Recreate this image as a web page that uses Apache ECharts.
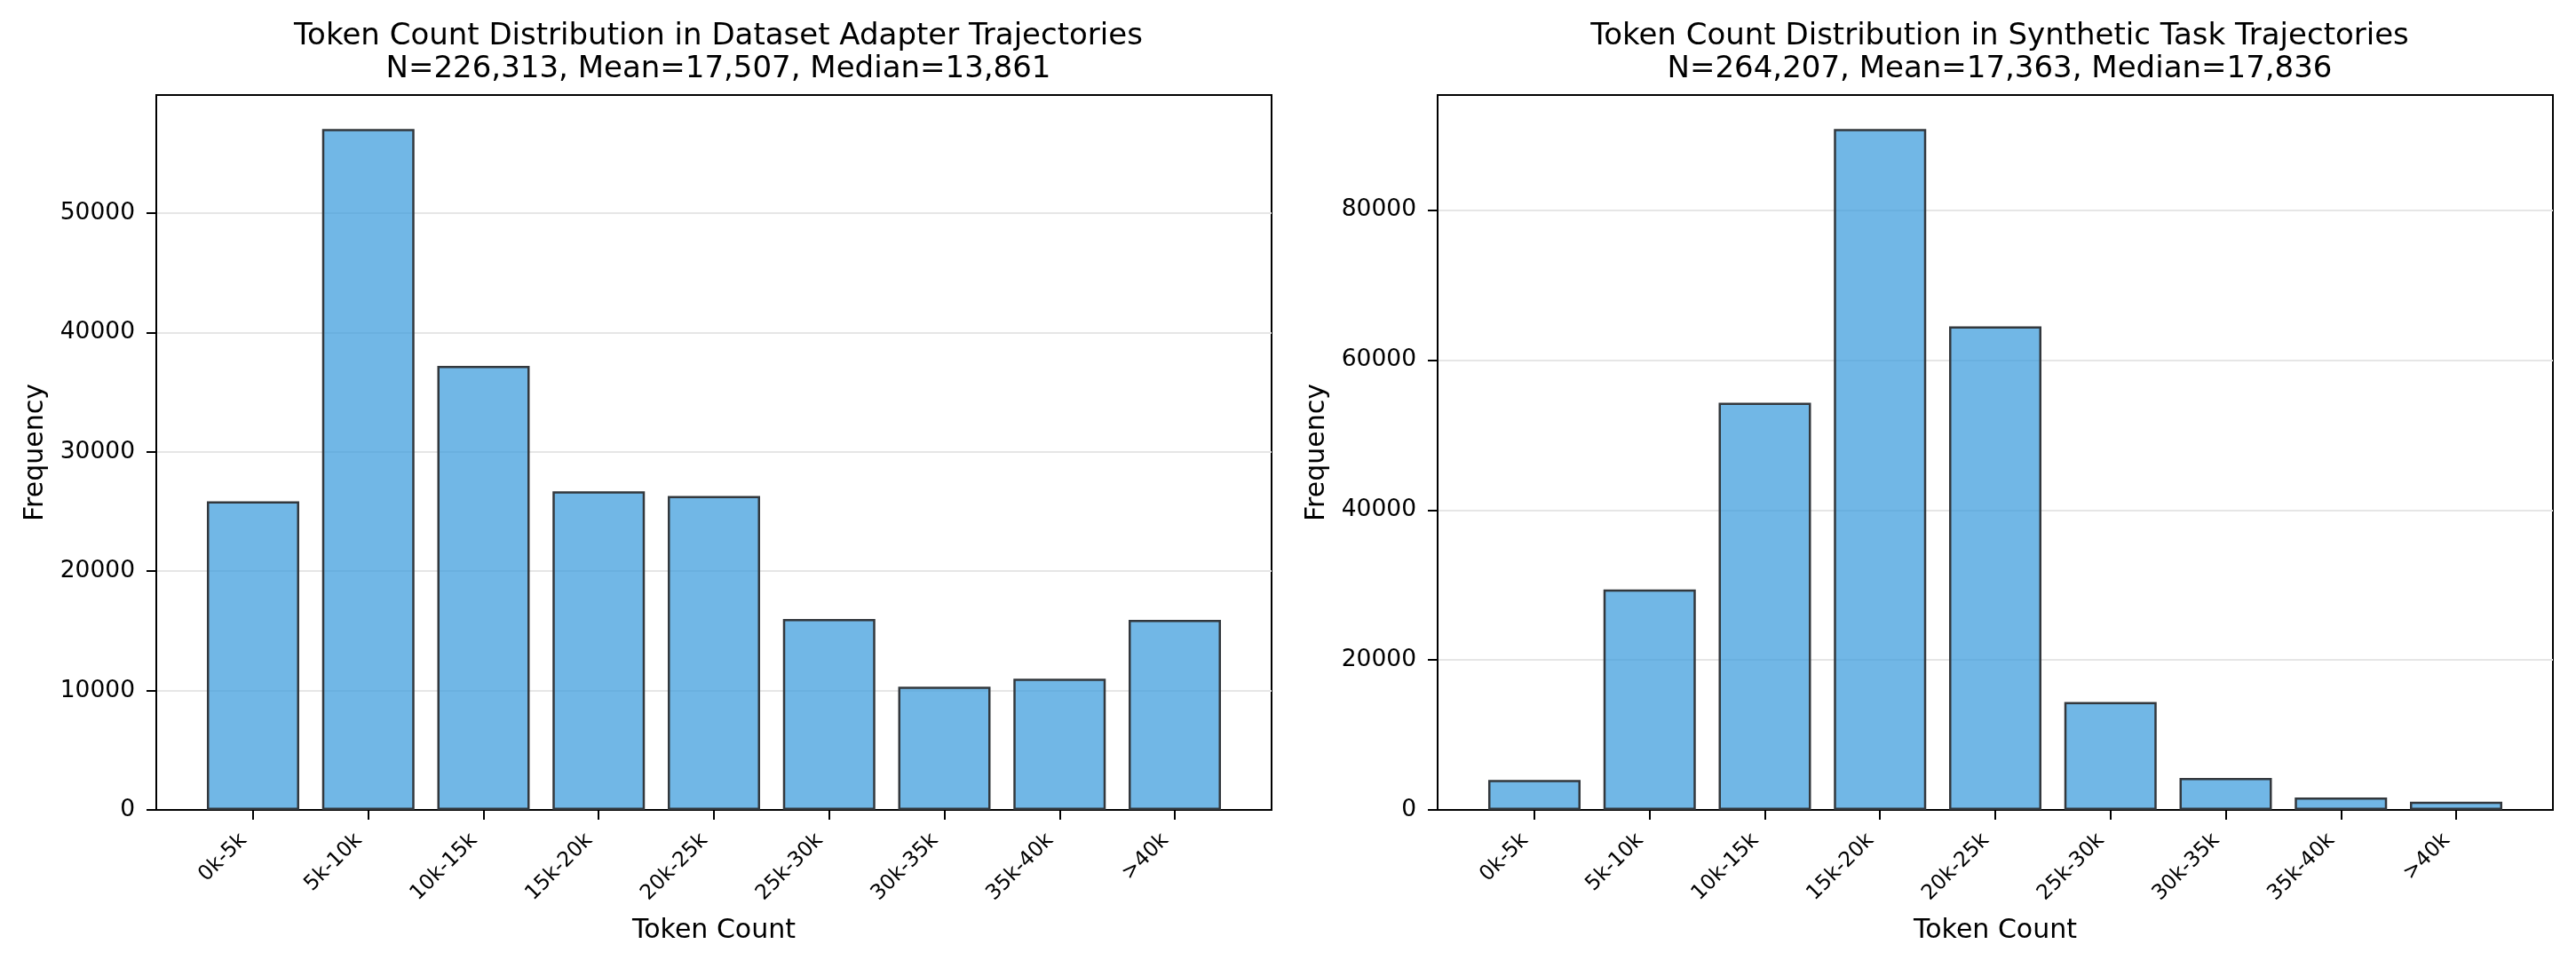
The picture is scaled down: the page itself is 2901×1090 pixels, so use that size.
<!DOCTYPE html>
<html>
<head>
<meta charset="utf-8">
<script src="https://cdn.jsdelivr.net/npm/echarts@6/dist/echarts.min.js"></script>
<style>
html,body{margin:0;padding:0;background:#fff;}
#chart{width:2901px;height:1090px;}
</style>
</head>
<body>
<div id="chart"></div>
<script>
// ---- data ----
const categories = ['0k-5k','5k-10k','10k-15k','15k-20k','20k-25k','25k-30k','30k-35k','35k-40k','>40k'];
const adapterValues = [25850, 57050, 37200, 26700, 26300, 16000, 10330, 11000, 15920];
const syntheticValues = [4000, 29400, 54300, 90800, 64500, 14400, 4270, 1660, 1100];
const adapterTitle = 'Token Count Distribution in Dataset Adapter Trajectories\nN=226,313, Mean=17,507, Median=13,861';
const syntheticTitle = 'Token Count Distribution in Synthetic Task Trajectories\nN=264,207, Mean=17,363, Median=17,836';
const adapterYTicks = [0, 10000, 20000, 30000, 40000, 50000];
const syntheticYTicks = [0, 20000, 40000, 60000, 80000];
const xLabel = 'Token Count';
const yLabel = 'Frequency';

const FONT = 'DejaVu Sans';
const catIdx = categories.map((c, i) => i);
const pad = 0.84;

function xAxisCfg(gi) {
  return {
    type: 'value', gridIndex: gi, min: -pad, max: categories.length - 1 + pad,
    splitLine: {show: false},
    axisLine: {show: true, onZero: false, lineStyle: {color: '#000', width: 2}},
    axisTick: {show: true, customValues: catIdx, length: 11, lineStyle: {color: '#000', width: 2}},
    axisLabel: {
      customValues: catIdx, formatter: v => categories[Math.round(v)] || '',
      rotate: 45, fontSize: 23.5, fontFamily: FONT, color: '#000', margin: 20,
      padding: [0, 15, 0, 0]
    },
    name: xLabel, nameLocation: 'middle', nameGap: 121,
    nameTextStyle: {fontSize: 30, fontFamily: FONT, color: '#000'}
  };
}
function yAxisCfg(gi, ticks, max) {
  return {
    type: 'value', gridIndex: gi, min: 0, max: max,
    axisLine: {show: true, onZero: false, lineStyle: {color: '#000', width: 2}},
    axisTick: {show: true, customValues: ticks, length: 11, lineStyle: {color: '#000', width: 2}},
    axisLabel: {customValues: ticks, formatter: v => String(v), fontSize: 26.5, fontFamily: FONT, color: '#000', margin: 24},
    splitLine: {show: true, lineStyle: {color: '#e6e6e6', width: 2}},
    name: yLabel, nameLocation: 'middle', nameGap: 121,
    nameTextStyle: {fontSize: 30, fontFamily: FONT, color: '#000'}
  };
}
function seriesCfg(gi, vals) {
  return {
    type: 'bar', xAxisIndex: gi, yAxisIndex: gi,
    data: vals.map((v, i) => [i, v]),
    barWidth: 104,
    itemStyle: {color: 'rgba(52,152,219,0.7)', borderColor: '#33383d', borderWidth: 2.5},
    emphasis: {disabled: true}
  };
}

const chart = echarts.init(document.getElementById('chart'), null, {renderer: 'canvas'});
chart.setOption({
  animation: false,
  backgroundColor: '#fff',
  title: [
    {text: adapterTitle, left: 804, top: 18, textAlign: 'center',
     textStyle: {fontSize: 34, fontWeight: 'normal', fontFamily: FONT, color: '#000', lineHeight: 37}},
    {text: syntheticTitle, left: 2247, top: 18, textAlign: 'center',
     textStyle: {fontSize: 34, fontWeight: 'normal', fontFamily: FONT, color: '#000', lineHeight: 37}}
  ],
  grid: [
    {left: 176, top: 107, width: 1256, height: 805, show: true, borderColor: '#000', borderWidth: 2, backgroundColor: 'transparent'},
    {left: 1619, top: 107, width: 1256, height: 805, show: true, borderColor: '#000', borderWidth: 2, backgroundColor: 'transparent'}
  ],
  xAxis: [xAxisCfg(0), xAxisCfg(1)],
  yAxis: [yAxisCfg(0, adapterYTicks, 59900), yAxisCfg(1, syntheticYTicks, 95340)],
  series: [seriesCfg(0, adapterValues), seriesCfg(1, syntheticValues)]
});
</script>
</body>
</html>
